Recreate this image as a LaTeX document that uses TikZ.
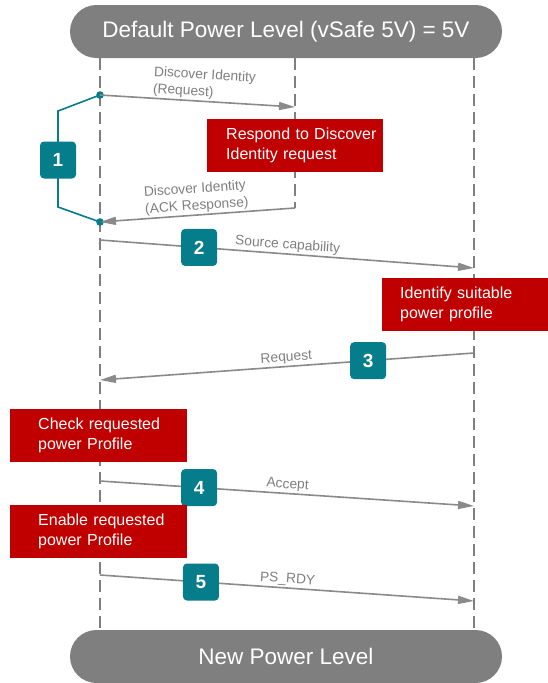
\documentclass[tikz,border=0pt]{standalone}
\usepackage{fontspec}
\setmainfont{Liberation Sans}
\usetikzlibrary{arrows.meta}
\definecolor{pdgray}{HTML}{7F7F7F}
\definecolor{pdline}{HTML}{8A8A8A}
\definecolor{pdred}{HTML}{C00000}
\definecolor{pdteal}{HTML}{067D8A}
\tikzset{
  level/.style={rectangle, rounded corners=26.5pt, fill=pdgray, text=white,
    minimum width=432pt, minimum height=53pt, font=\fontsize{22.5}{26}\selectfont},
  lifeline/.style={draw=pdgray, line width=2.6pt, dash pattern=on 12pt off 6pt},
  msg/.style={draw=pdline, line width=1.6pt, -{Triangle[length=16pt,width=8pt]}},
  lbl/.style={text=pdgray, font=\fontsize{13.8}{17}\selectfont, align=left, inner sep=1.5pt},
  action/.style={fill=pdred, text=white, align=left, minimum height=53pt,
    font=\fontsize{16}{20}\selectfont},
  badge/.style={fill=pdteal, rounded corners=4pt, minimum width=36pt, minimum height=37pt,
    inner sep=0pt, text=white, font=\bfseries\fontsize{19}{19}\selectfont},
  bracket/.style={draw=pdteal, line width=1.6pt}
}
\begin{document}
\begin{tikzpicture}[x=1pt,y=-1pt]
  \useasboundingbox (0,0) rectangle (548,683);
  % life lines
  \begin{scope}[lifeline]
    \draw (100,58) -- (100,630);
    \draw (295,58) -- (295,208);
    \draw (474,58) -- (474,630);
  \end{scope}
  \node[level] (deflvl) at (286,31.5) {Default Power Level (vSafe 5V) = 5V};
  \node[level] (newlvl) at (286,656.5) {New Power Level};
  % message end points
  \coordinate (m1a) at (100,95);  \coordinate (m1b) at (295,107);
  \coordinate (ack1a) at (295,208); \coordinate (ack1b) at (100,222);
  \coordinate (m2a) at (100,240); \coordinate (m2b) at (474,268);
  \coordinate (m3a) at (474,353); \coordinate (m3b) at (100,380);
  \coordinate (m4a) at (100,481); \coordinate (m4b) at (474,506);
  \coordinate (m5a) at (100,575); \coordinate (m5b) at (474,601);
  \coordinate (brt) at (58,111);  \coordinate (brb) at (58,207);
  % discover identity loop
  \draw[bracket] (m1a) -- (brt) -- (brb) -- (ack1b);
  \fill[pdteal] (m1a) circle (3.8) (ack1b) circle (3.8);
  \node[badge] (b1) at (58,160) {1};
  \draw[msg] (m1a) -- node[lbl, above, sloped, pos=0.53] {Discover Identity\\(Request)} (m1b);
  \draw[msg] (ack1a) -- node[lbl, above, sloped] {Discover Identity\\(ACK Response)} (ack1b);
  \node[action, anchor=north west, text width=138pt, inner xsep=19pt] (rsp) at (207,119)
    {\mbox{Respond to Discover}\\\mbox{Identity request}};
  % contract
  \draw[msg] (m2a) -- node[lbl, above, sloped] {Source capability}
    node[badge, pos=0.265] (b2) {2} (m2b);
  \node[action, anchor=north west, text width=130pt, inner xsep=18pt] (idp) at (382,278)
    {\mbox{Identify suitable}\\\mbox{power profile}};
  \draw[msg] (m3a) -- node[lbl, above, sloped] {Request}
    node[badge, pos=0.283] (b3) {3} (m3b);
  \node[action, anchor=north west, text width=121pt, inner xsep=28pt] (chk) at (10,409)
    {\mbox{Check requested}\\\mbox{power Profile}};
  \draw[msg] (m4a) -- node[lbl, above, sloped] {Accept}
    node[badge, pos=0.265] (b4) {4} (m4b);
  \node[action, anchor=north west, text width=121pt, inner xsep=28pt] (enb) at (10,505)
    {\mbox{Enable requested}\\\mbox{power Profile}};
  \draw[msg] (m5a) -- node[lbl, above, sloped] {PS\_RDY}
    node[badge, pos=0.27] (b5) {5} (m5b);
\end{tikzpicture}
\end{document}
